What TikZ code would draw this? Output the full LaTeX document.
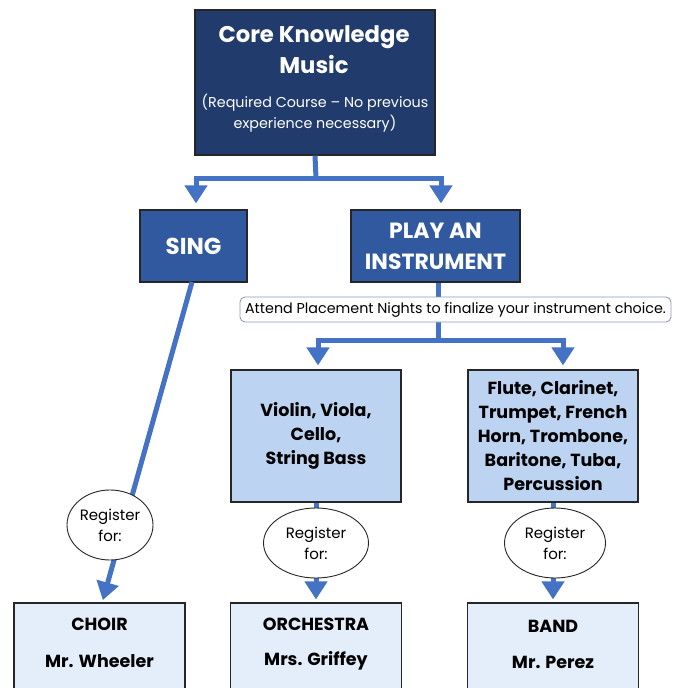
\documentclass[tikz,border=0pt]{standalone}
\usepackage{fontspec}
\setmainfont{Poppins}
\usetikzlibrary{arrows.meta,shapes.geometric}
\definecolor{navy}{HTML}{213C6C}
\definecolor{midblue}{HTML}{3059A0}
\definecolor{lightblue}{HTML}{BDD3F2}
\definecolor{paleblue}{HTML}{E4EDFA}
\definecolor{connblue}{HTML}{4472C4}
\definecolor{callgray}{HTML}{8A9BB5}
\tikzset{
  box/.style={draw=black!85, line width=1.2pt, rectangle, align=center, inner sep=2pt},
  darkbox/.style={box, fill=navy, text=white},
  midbox/.style={box, fill=midblue, text=white, font=\fontsize{22}{31}\selectfont\bfseries},
  instbox/.style={box, fill=lightblue, text=black, font=\fontsize{17.5}{24}\selectfont\bfseries, minimum width=170pt, minimum height=132pt},
  endbox/.style={box, fill=paleblue, text=black, minimum width=171pt, minimum height=100pt},
  endtext/.style={font=\fontsize{17.5}{20}\selectfont\bfseries},
  reg/.style={draw=black!85, line width=0.9pt, ellipse, fill=white, align=center, inner sep=0pt, font=\fontsize{15}{21}\selectfont},
  conn/.style={draw=connblue, line width=5pt, -{Triangle[width=22pt,length=18pt]}},
  plain/.style={draw=connblue, line width=5pt},
  callout/.style={draw=callgray, line width=0.9pt, rounded corners=5pt, fill=white, font=\fontsize{14.3}{16}\selectfont, minimum width=431pt, minimum height=25pt, inner sep=0pt}
}
\begin{document}
\begin{tikzpicture}[x=1pt,y=-1pt]
\useasboundingbox (0,0) rectangle (672,688);
\clip (0,0) rectangle (672,688);
% nodes
\node[darkbox, minimum width=240pt, minimum height=145pt] (core) at (315,82.5) {};
\node[text=white, font=\fontsize{22.7}{31}\selectfont\bfseries, align=center] (coret) at (314,50) {Core Knowledge\\Music};
\node[text=white, font=\fontsize{14.3}{21}\selectfont, align=center] (cores) at (315,113) {(Required Course – No previous\\experience necessary)};
\node[midbox, minimum width=107pt, minimum height=72pt, font=\fontsize{23}{31}\selectfont\bfseries] (sing) at (193.5,246) {SING};
\node[midbox, minimum width=169pt, minimum height=72pt] (play) at (435.5,246) {PLAY AN\\INSTRUMENT};
\node[instbox] (strings) at (316,436) {Violin, Viola,\\Cello,\\String Bass};
\node[instbox] (winds) at (553,436) {Flute, Clarinet,\\Trumpet, French\\Horn, Trombone,\\Baritone, Tuba,\\Percussion};
\node[endbox] (choir) at (99.5,653) {};
\node[endbox] (orch) at (316,653) {};
\node[endbox] (band) at (553,653) {};
\node[endtext] (choirt) at (99.5,624) {CHOIR};
\node[endtext] (choirn) at (99.5,661) {Mr. Wheeler};
\node[endtext] (orcht) at (316,624) {ORCHESTRA};
\node[endtext] (orchn) at (316,661) {Mrs. Griffey};
\node[endtext] (bandt) at (553,626) {BAND};
\node[endtext] (bandn) at (553,662) {Mr. Perez};
% connectors
\coordinate (j1) at (316,178);
\coordinate (s1) at (196,178);
\coordinate (p1) at (441,178);
\draw[plain] (core.south) -- (j1);
\draw[conn, shorten >=6pt] (j1) -- (s1) -- (s1 |- sing.north);
\draw[conn, shorten >=6pt] (j1) -- (p1) -- (p1 |- play.north);
\coordinate (j2) at (438,340);
\coordinate (v1) at (318,340);
\coordinate (w1) at (563,340);
\draw[plain] ([xshift=2.5pt]play.south) -- (j2);
\draw[conn, shorten >=4pt] (j2) -- (v1) -- (v1 |- strings.north);
\draw[conn, shorten >=4pt] (j2) -- (w1) -- (w1 |- winds.north);
\coordinate (sg) at (192,282);
\coordinate (cg) at (102,603);
\draw[conn, shorten >=3pt] (sg) -- (cg);
\draw[conn, shorten >=3pt] (strings.south) -- (orch.north);
\draw[conn, shorten >=3pt] (winds.south) -- (band.north);
% callout and ellipses on top
\node[callout] (place) at (455.5,309.5) {Attend Placement Nights to finalize your instrument choice.};
\node[reg, minimum width=86pt, minimum height=70pt] (r1) at (110,525) {Register\\for:};
\node[reg, minimum width=105pt, minimum height=70pt] (r2) at (316,543) {Register\\for:};
\node[reg, minimum width=101pt, minimum height=70pt] (r3) at (555,543) {Register\\for:};
\end{tikzpicture}
\end{document}
